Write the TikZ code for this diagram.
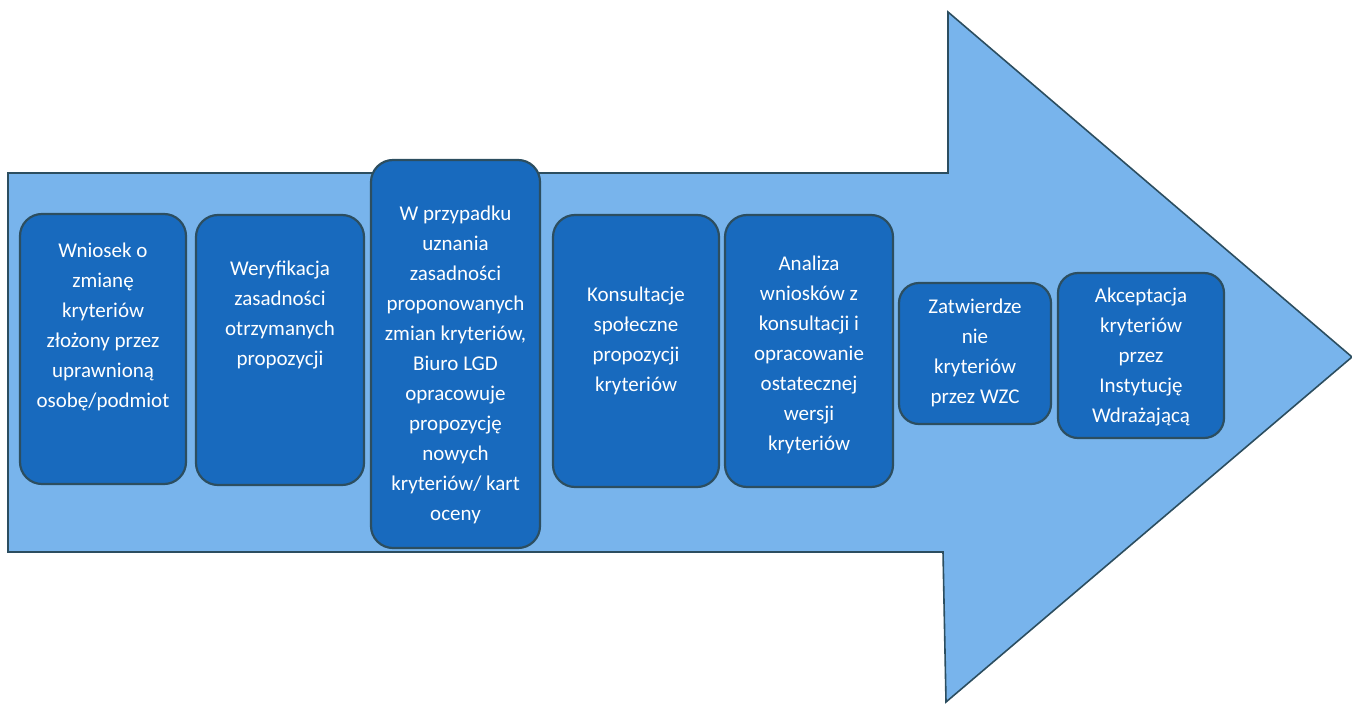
\documentclass[tikz,border=0pt]{standalone}
\usepackage{fontspec}
\setmainfont{Carlito}
\usepackage{tikz}

\definecolor{arrowblue}{RGB}{120,180,236}
\definecolor{stageblue}{RGB}{24,106,190}
\definecolor{stageline}{RGB}{44,78,96}

\tikzset{
	stage/.style={draw=stageline, line width=2.2bp, fill=stageblue, rounded corners=22bp, inner sep=0pt},
	stagetext/.style={text=white, align=center, inner sep=0pt, font=\fontsize{21bp}{30bp}\selectfont}
}

\begin{document}
\begin{tikzpicture}[x=1bp, y=-1bp]
\useasboundingbox (0,0) rectangle (1352,709);
%big arrow
\draw[draw=stageline, line width=1.6bp, fill=arrowblue] (8,173) -- (948,173) -- (948,12) -- (1352,357) -- (946,702) -- (943,552) -- (8,552) -- cycle;
%stages
\node[stage, minimum width=166bp, minimum height=270bp] (s1) at (103,349) {};
\node[stage, minimum width=168bp, minimum height=270bp] (s2) at (280,350) {};
\node[stage, minimum width=169bp, minimum height=388bp] (s3) at (455.5,354) {};
\node[stage, minimum width=166bp, minimum height=272bp] (s4) at (636,351) {};
\node[stage, minimum width=168bp, minimum height=272bp] (s5) at (809,351) {};
\node[stage, minimum width=152bp, minimum height=141bp, rounded corners=20bp] (s6) at (975,353.5) {};
\node[stage, minimum width=166bp, minimum height=165bp, rounded corners=20bp] (s7) at (1141,355.5) {};
%texts
\node[stagetext] (t1) at (103,327) {Wniosek o\\zmianę\\kryteriów\\złożony przez\\uprawnioną\\osobę/podmiot};
\node[stagetext] (t2) at (280,315) {Weryfikacja\\zasadności\\otrzymanych\\propozycji};
\node[stagetext] (t3) at (455.5,365) {W przypadku\\uznania\\zasadności\\proponowanych\\zmian kryteriów,\\Biuro LGD\\opracowuje\\propozycję\\nowych\\kryteriów/ kart\\oceny};
\node[stagetext] (t4) at (636,341) {Konsultacje\\społeczne\\propozycji\\kryteriów};
\node[stagetext] (t5) at (809,355) {Analiza\\wniosków z\\konsultacji i\\opracowanie\\ostatecznej\\wersji\\kryteriów};
\node[stagetext] (t6) at (975,353) {Zatwierdze\\nie\\kryteriów\\przez WZC};
\node[stagetext] (t7) at (1141,357) {Akceptacja\\kryteriów\\przez\\Instytucję\\Wdrażającą};
\end{tikzpicture}
\end{document}
